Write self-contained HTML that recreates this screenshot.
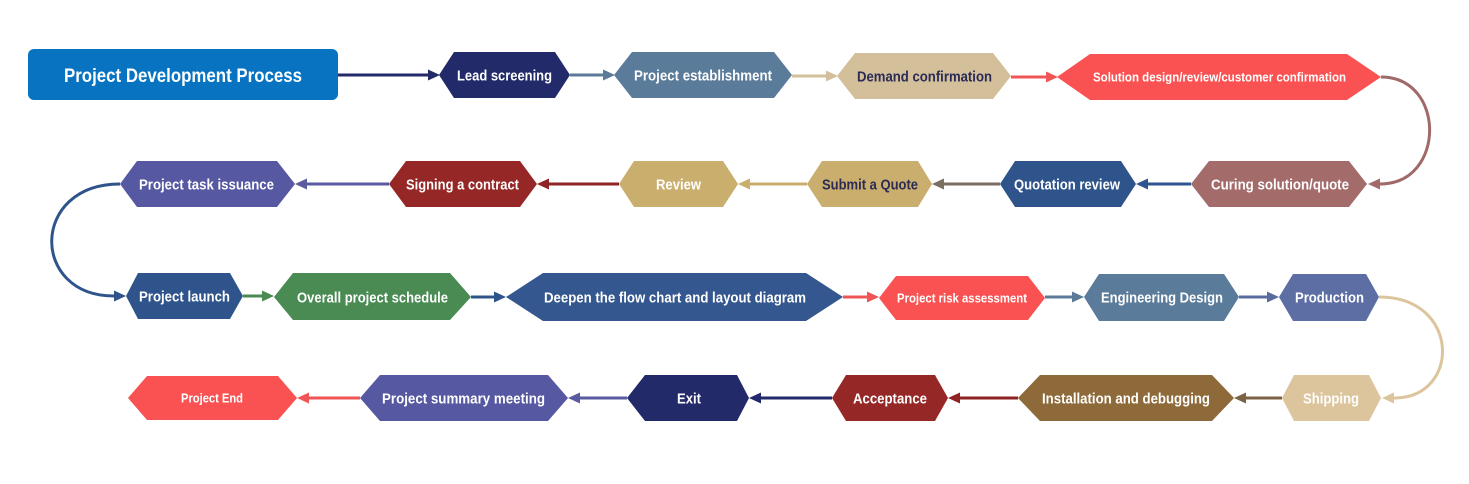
<!DOCTYPE html>
<html>
<head>
<meta charset="utf-8">
<style>
html,body{margin:0;padding:0;background:#ffffff;}
svg{display:block;}
text{font-family:"Liberation Sans",Arial,sans-serif;font-weight:bold;}
</style>
</head>
<body>
<svg width="1469" height="484" viewBox="0 0 1469 484" xmlns="http://www.w3.org/2000/svg">
<rect x="0" y="0" width="1469" height="484" fill="#ffffff"/>

<!-- Title -->
<rect x="28" y="49" width="310" height="51" rx="6" ry="6" fill="#0874c1"/>
<text x="64" y="82" font-size="19" fill="#ffffff" textLength="238" lengthAdjust="spacingAndGlyphs">Project Development Process</text>

<!-- Row 1 arrows -->
<g stroke-width="3" fill="none">
<line x1="338" y1="75" x2="428" y2="75" stroke="#222a6a"/>
<line x1="570" y1="75" x2="603" y2="75" stroke="#5b7b99"/>
<line x1="792" y1="76" x2="826" y2="76" stroke="#d3bf9b"/>
<line x1="1011" y1="77" x2="1046" y2="77" stroke="#f05555"/>
</g>
<polygon points="440,75 428,69.5 428,80.5" fill="#222a6a"/>
<polygon points="615,75 603,69.5 603,80.5" fill="#5b7b99"/>
<polygon points="838,76 826,70.5 826,81.5" fill="#d3bf9b"/>
<polygon points="1058,77 1046,71.5 1046,82.5" fill="#f05555"/>

<!-- Row 1 nodes -->
<polygon points="439,75 454,52 555,52 570,75 555,98 454,98" fill="#222a6a"/>
<text x="457" y="80.5" font-size="15" fill="#ffffff" textLength="95" lengthAdjust="spacingAndGlyphs">Lead screening</text>

<polygon points="614,75 632,52 774,52 792,75 774,98 632,98" fill="#5b7b9a"/>
<text x="634" y="80.5" font-size="15" fill="#ffffff" textLength="138" lengthAdjust="spacingAndGlyphs">Project establishment</text>

<polygon points="837,76 855,53 993,53 1011,76 993,99 855,99" fill="#d4bf9b"/>
<text x="857" y="81.5" font-size="15" fill="#2b2b55" textLength="135" lengthAdjust="spacingAndGlyphs">Demand confirmation</text>

<polygon points="1057,77 1090,54 1347,54 1381,77 1347,100 1090,100" fill="#fa5252"/>
<text x="1093" y="81.5" font-size="13" fill="#ffffff" textLength="253" lengthAdjust="spacingAndGlyphs">Solution design/review/customer confirmation</text>

<!-- Curve 1 -->
<path d="M1381,77 C1446,77 1446,184 1380,184" stroke="#a06a6a" stroke-width="3" fill="none"/>
<polygon points="1368,184 1380,178.5 1380,189.5" fill="#a06a6a"/>

<!-- Row 2 arrows (leftward) -->
<g stroke-width="3" fill="none">
<line x1="1191" y1="184" x2="1148" y2="184" stroke="#2e5590"/>
<line x1="1000" y1="184" x2="944" y2="184" stroke="#7b6e62"/>
<line x1="807" y1="184" x2="750" y2="184" stroke="#c9ad6e"/>
<line x1="619" y1="184" x2="549" y2="184" stroke="#8f2222"/>
<line x1="389" y1="184" x2="307" y2="184" stroke="#5a5aa0"/>
</g>
<polygon points="1136,184 1148,178.5 1148,189.5" fill="#2e5590"/>
<polygon points="932,184 944,178.5 944,189.5" fill="#7b6e62"/>
<polygon points="738,184 750,178.5 750,189.5" fill="#c9ad6e"/>
<polygon points="537,184 549,178.5 549,189.5" fill="#8f2222"/>
<polygon points="295,184 307,178.5 307,189.5" fill="#5a5aa0"/>

<!-- Row 2 nodes -->
<polygon points="1191,184 1209,161 1349,161 1367,184 1349,207 1209,207" fill="#a46b6b"/>
<text x="1211" y="189.5" font-size="15" fill="#ffffff" textLength="138" lengthAdjust="spacingAndGlyphs">Curing solution/quote</text>

<polygon points="1000,184 1015,161 1121,161 1136,184 1121,207 1015,207" fill="#2f548c"/>
<text x="1014" y="189.5" font-size="15" fill="#ffffff" textLength="106" lengthAdjust="spacingAndGlyphs">Quotation review</text>

<polygon points="807,184 822,161 918,161 932,184 918,207 822,207" fill="#c9ae6e"/>
<text x="822" y="189.5" font-size="15" fill="#2b2b55" textLength="96" lengthAdjust="spacingAndGlyphs">Submit a Quote</text>

<polygon points="619,184 634,161 723,161 738,184 723,207 634,207" fill="#c9ae6e"/>
<text x="656" y="189.5" font-size="15" fill="#ffffff" textLength="45" lengthAdjust="spacingAndGlyphs">Review</text>

<polygon points="389,184 406,161 520,161 537,184 520,207 406,207" fill="#962727"/>
<text x="406" y="189.5" font-size="15" fill="#ffffff" textLength="113" lengthAdjust="spacingAndGlyphs">Signing a contract</text>

<polygon points="120,184 137,161 277,161 295,184 277,207 137,207" fill="#5658a2"/>
<text x="139" y="189.5" font-size="15" fill="#ffffff" textLength="135" lengthAdjust="spacingAndGlyphs">Project task issuance</text>

<!-- Left curve -->
<path d="M120,184 C30,184 30,296 114,296" stroke="#2f548c" stroke-width="3" fill="none"/>
<polygon points="126,296 114,290.5 114,301.5" fill="#2f548c"/>

<!-- Row 3 arrows (rightward) -->
<g stroke-width="3" fill="none">
<line x1="243" y1="296" x2="262" y2="296" stroke="#4a8a53"/>
<line x1="471" y1="297" x2="494" y2="297" stroke="#2f548c"/>
<line x1="843" y1="297" x2="867" y2="297" stroke="#f05555"/>
<line x1="1045" y1="297" x2="1072" y2="297" stroke="#5b7b99"/>
<line x1="1239" y1="297" x2="1267" y2="297" stroke="#5a6ba0"/>
</g>
<polygon points="274,296 262,290.5 262,301.5" fill="#4a8a53"/>
<polygon points="506,297 494,291.5 494,302.5" fill="#2f548c"/>
<polygon points="879,297 867,291.5 867,302.5" fill="#f05555"/>
<polygon points="1084,297 1072,291.5 1072,302.5" fill="#5b7b99"/>
<polygon points="1279,297 1267,291.5 1267,302.5" fill="#5a6ba0"/>

<!-- Row 3 nodes -->
<polygon points="126,296 138,273 230,273 243,296 230,319 138,319" fill="#2f548c"/>
<text x="139" y="301.5" font-size="15" fill="#ffffff" textLength="91" lengthAdjust="spacingAndGlyphs">Project launch</text>

<polygon points="274,297 293,273 450,273 471,297 450,320 293,320" fill="#4a8b54"/>
<text x="297" y="302.5" font-size="15" fill="#ffffff" textLength="151" lengthAdjust="spacingAndGlyphs">Overall project schedule</text>

<polygon points="506,297 543,273 806,273 843,297 806,321 543,321" fill="#34578f"/>
<text x="544" y="302.5" font-size="15" fill="#ffffff" textLength="262" lengthAdjust="spacingAndGlyphs">Deepen the flow chart and layout diagram</text>

<polygon points="879,298 896,276 1028,276 1045,298 1028,320 896,320" fill="#fa5252"/>
<text x="897" y="302.5" font-size="13" fill="#ffffff" textLength="130" lengthAdjust="spacingAndGlyphs">Project risk assessment</text>

<polygon points="1084,297 1099,274 1224,274 1239,297 1224,321 1099,321" fill="#5b7b9a"/>
<text x="1101" y="302.5" font-size="15" fill="#ffffff" textLength="122" lengthAdjust="spacingAndGlyphs">Engineering Design</text>

<polygon points="1279,297 1293,274 1366,274 1379,297 1366,321 1293,321" fill="#5c6ea3"/>
<text x="1295" y="302.5" font-size="15" fill="#ffffff" textLength="69" lengthAdjust="spacingAndGlyphs">Production</text>

<!-- Curve 2 -->
<path d="M1379,297 C1461,297 1461,398 1394,398" stroke="#dcc59c" stroke-width="3" fill="none"/>
<polygon points="1382,398 1394,392.5 1394,403.5" fill="#dcc59c"/>

<!-- Row 4 arrows (leftward) -->
<g stroke-width="3" fill="none">
<line x1="1282" y1="398" x2="1246" y2="398" stroke="#7c6244"/>
<line x1="1018" y1="398" x2="960" y2="398" stroke="#8f2222"/>
<line x1="832" y1="398" x2="761" y2="398" stroke="#232a6b"/>
<line x1="627" y1="398" x2="580" y2="398" stroke="#5a5aa0"/>
<line x1="360" y1="398" x2="309" y2="398" stroke="#f05555"/>
</g>
<polygon points="1234,398 1246,392.5 1246,403.5" fill="#7c6244"/>
<polygon points="948,398 960,392.5 960,403.5" fill="#8f2222"/>
<polygon points="749,398 761,392.5 761,403.5" fill="#232a6b"/>
<polygon points="568,398 580,392.5 580,403.5" fill="#5a5aa0"/>
<polygon points="297,398 309,392.5 309,403.5" fill="#f05555"/>

<!-- Row 4 nodes -->
<polygon points="1282,398 1294,375 1369,375 1381,398 1369,421 1294,421" fill="#dcc59c"/>
<text x="1303" y="403.5" font-size="15" fill="#ffffff" textLength="56" lengthAdjust="spacingAndGlyphs">Shipping</text>

<polygon points="1018,398 1040,375 1212,375 1234,398 1212,421 1040,421" fill="#8e6a3b"/>
<text x="1042" y="403.5" font-size="15" fill="#ffffff" textLength="168" lengthAdjust="spacingAndGlyphs">Installation and debugging</text>

<polygon points="832,398 846,375 935,375 948,398 935,421 846,421" fill="#962727"/>
<text x="853" y="403.5" font-size="15" fill="#ffffff" textLength="74" lengthAdjust="spacingAndGlyphs">Acceptance</text>

<polygon points="627,398 645,375 737,375 749,398 737,421 645,421" fill="#222a6a"/>
<text x="677" y="403.5" font-size="15" fill="#ffffff" textLength="24" lengthAdjust="spacingAndGlyphs">Exit</text>

<polygon points="360,398 380,375 548,375 568,398 548,421 380,421" fill="#5658a2"/>
<text x="382" y="403.5" font-size="15" fill="#ffffff" textLength="163" lengthAdjust="spacingAndGlyphs">Project summary meeting</text>

<polygon points="128,398 147,376 278,376 297,398 278,420 147,420" fill="#fa5252"/>
<text x="181" y="402.5" font-size="13" fill="#ffffff" textLength="62" lengthAdjust="spacingAndGlyphs">Project End</text>
</svg>
</body>
</html>
